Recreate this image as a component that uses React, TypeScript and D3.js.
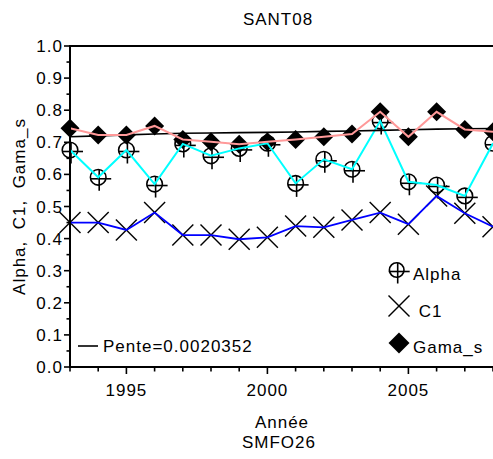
import React from 'react';
import * as d3 from 'd3';

const years = [1993, 1994, 1995, 1996, 1997, 1998, 1999, 2000, 2001, 2002, 2003, 2004, 2005, 2006, 2007, 2008];
const alpha = [0.676, 0.591, 0.676, 0.570, 0.695, 0.658, 0.681, 0.697, 0.572, 0.647, 0.616, 0.766, 0.577, 0.567, 0.533, 0.697];
const c1 = [0.450, 0.450, 0.427, 0.481, 0.411, 0.411, 0.398, 0.404, 0.439, 0.435, 0.458, 0.481, 0.445, 0.533, 0.479, 0.437];
const gamaS = [0.744, 0.723, 0.723, 0.751, 0.709, 0.702, 0.694, 0.702, 0.709, 0.717, 0.726, 0.795, 0.717, 0.795, 0.740, 0.733];
const trend = [0.7175, 0.720, 0.723, 0.726, 0.728, 0.729, 0.730, 0.731, 0.732, 0.734, 0.735, 0.737, 0.739, 0.741, 0.742, 0.743];
const yTicks = [0, 0.1, 0.2, 0.3, 0.4, 0.5, 0.6, 0.7, 0.8, 0.9, 1.0];
const yMinorTicks = [0.05, 0.15, 0.25, 0.35, 0.45, 0.55, 0.65, 0.75, 0.85, 0.95];
const xTicks = [1995, 2000, 2005];
const title = 'SANT08';
const xTitle1 = 'Année';
const xTitle2 = 'SMFO26';
const yTitle = 'Alpha,  C1,  Gama_s';
const penteLabel = 'Pente=0.0020352';
const legendNames = ['Alpha', ' C1', 'Gama_s'];

const W = 493;
const H = 459;
const left = 70;
const right = 493;
const top = 46;
const bottom = 367;

const font = { fontFamily: '"Liberation Sans", Arial, sans-serif', fontSize: 17, letterSpacing: 1 } as const;

function CirclePlus({ x, y, r = 7.8 }: { x: number; y: number; r?: number }) {
  const cx = x + 2.5;
  const cy = y + 3;
  const a = 10.5;
  return (
    <g stroke="#000" strokeWidth={1.6} fill="none">
      <circle cx={x} cy={y} r={r} />
      <line x1={cx - a} y1={cy - 1.5} x2={cx + a} y2={cy - 1.5} />
      <line x1={cx - 1.5} y1={cy - a} x2={cx - 1.5} y2={cy + a} />
    </g>
  );
}

function Cross({ x, y, s = 10.5 }: { x: number; y: number; s?: number }) {
  return (
    <g stroke="#000" strokeWidth={1.4}>
      <line x1={x - s} y1={y - s} x2={x + s} y2={y + s} />
      <line x1={x - s} y1={y + s} x2={x + s} y2={y - s} />
    </g>
  );
}

function Diamond({ x, y, s = 9.5 }: { x: number; y: number; s?: number }) {
  return <path d={`M${x},${y - s}L${x + s},${y}L${x},${y + s}L${x - s},${y}Z`} fill="#000" />;
}

export default function App() {
  const xs = d3.scaleLinear().domain([1993, 2008]).range([left, right]);
  const ys = d3.scaleLinear().domain([0, 1]).range([bottom, top]);
  const line = (vals: number[]) =>
    d3.line<number>().x((_, i) => xs(years[i])).y((d) => ys(d))(vals) || '';

  return (
    <svg width={W} height={H} style={{ position: 'absolute', left: 0, top: 0, background: '#fff' }}>
      <rect x={0} y={0} width={W} height={H} fill="#fff" />
      <text x={278} y={25} textAnchor="middle" {...font}>{title}</text>

      {/* markers */}
      {years.map((yr, i) => (
        <Diamond key={'d' + i} x={xs(yr)} y={ys(gamaS[i])} />
      ))}
      {years.map((yr, i) => (
        <CirclePlus key={'c' + i} x={xs(yr)} y={ys(alpha[i])} />
      ))}
      {years.map((yr, i) => (
        <Cross key={'x' + i} x={xs(yr)} y={ys(c1[i])} />
      ))}

      {/* lines */}
      <path d={line(c1)} fill="none" stroke="#0000ff" strokeWidth={1.8} />
      <path d={line(alpha)} fill="none" stroke="#00ffff" strokeWidth={2} />
      <path d={line(trend)} fill="none" stroke="#000" strokeWidth={1.6} />
      <path d={line(gamaS)} fill="none" stroke="#ff9999" strokeWidth={2} />

      {/* frame */}
      <line x1={left} y1={top} x2={W + 2} y2={top} stroke="#000" strokeWidth={2} />
      <line x1={left} y1={top - 1} x2={left} y2={bottom + 1} stroke="#000" strokeWidth={2} />
      <line x1={left - 1} y1={bottom} x2={W + 2} y2={bottom} stroke="#000" strokeWidth={2} />

      {/* y ticks */}
      {yTicks.map((t) => (
        <g key={'yt' + t}>
          <line x1={left - 6} y1={ys(t)} x2={left} y2={ys(t)} stroke="#000" strokeWidth={1.6} />
          <text x={left - 7} y={ys(t) + 6} textAnchor="end" {...font}>{d3.format('.1f')(t)}</text>
        </g>
      ))}
      {yMinorTicks.map((t) => (
        <line key={'ym' + t} x1={left - 3.5} y1={ys(t)} x2={left} y2={ys(t)} stroke="#000" strokeWidth={1.6} />
      ))}

      {/* x ticks */}
      {years.map((yr) => (
        <line key={'xm' + yr} x1={xs(yr)} y1={bottom} x2={xs(yr)} y2={bottom + (xTicks.includes(yr) ? 7 : 4.5)} stroke="#000" strokeWidth={1.6} />
      ))}
      {xTicks.map((t) => (
        <text key={'xt' + t} x={xs(t)} y={395.5} textAnchor="middle" {...font}>{t}</text>
      ))}

      {/* axis titles */}
      <text x={282} y={428} textAnchor="middle" {...font}>{xTitle1}</text>
      <text x={279} y={448} textAnchor="middle" {...font}>{xTitle2}</text>
      <text
        transform={`translate(25,${(top + bottom) / 2}) rotate(-90)`}
        textAnchor="middle"
        style={{ whiteSpace: 'pre' }}
        {...font}
      >
        {yTitle}
      </text>

      {/* pente legend */}
      <line x1={78} y1={346} x2={98} y2={346} stroke="#000" strokeWidth={1.6} />
      <text x={103} y={352} {...font}>{penteLabel}</text>

      {/* series legend */}
      <CirclePlus x={396.7} y={270} r={7.3} />
      <text x={413} y={280} {...font}>{legendNames[0]}</text>
      <Cross x={399} y={306} />
      <text x={413} y={316.5} style={{ whiteSpace: 'pre' }} {...font}>{legendNames[1]}</text>
      <Diamond x={399} y={343} s={10.5} />
      <text x={413} y={353} {...font}>{legendNames[2]}</text>
    </svg>
  );
}
